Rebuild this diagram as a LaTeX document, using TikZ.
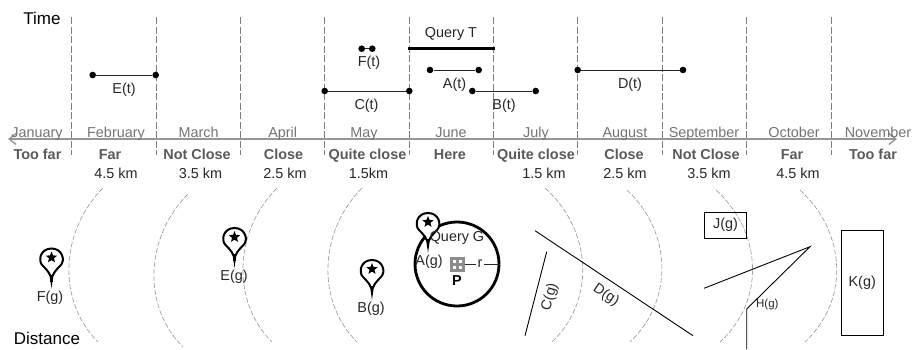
\documentclass[tikz,border=0pt]{standalone}
\usepackage{fontspec}
\setmainfont{Liberation Sans}
\usetikzlibrary{arrows.meta,shapes.geometric}
\definecolor{figgrey}{RGB}{125,125,125}
\definecolor{figlabel}{RGB}{90,90,90}
\definecolor{figaxis}{RGB}{150,150,150}
\providecommand{\flab}{\fontsize{14.4}{16}\selectfont}
\providecommand{\fbig}{\fontsize{17}{19}\selectfont}
\providecommand{\fsmall}{\fontsize{11.5}{13}\selectfont}
\tikzset{
  lab/.style={inner sep=0pt,font=\flab,text=black!85},
  km/.style={lab,anchor=base},
  month/.style={inner sep=0pt,anchor=base,font=\flab,text=figlabel!85},
  near/.style={inner sep=0pt,anchor=base,font=\flab\bfseries,text=figlabel},
  dot/.style={circle,fill=black,inner sep=0pt,minimum size=6.6pt},
  span/.style={draw=black!85,line width=0.9pt},
  slot/.style={draw=figgrey,line width=0.8pt,dash pattern=on 7pt off 2.5pt},
  ring/.style={draw=figaxis,line width=0.6pt,dash pattern=on 5pt off 2pt},
  geom/.style={draw=black,line width=0.9pt},
  pinstar/.style={star,star points=5,star point ratio=2.3,fill=black,inner sep=0pt,minimum size=12pt},
  pin/.pic={
    \draw[black,line width=2pt,fill=white] (0,0) .. controls (0,-7) and (-4,-11) .. (-9,-16) .. controls (-14,-21) and (-11,-33) .. (0,-33) .. controls (11,-33) and (14,-21) .. (9,-16) .. controls (4,-11) and (0,-7) .. (0,0) -- cycle;
    \draw[black,line width=2.8pt] (0,0) -- (0,-7);
    \node[pinstar] (-star) at (0,-24) {};
  }
}
\begin{document}
\begin{tikzpicture}[x=1pt,y=-1pt,line width=0.4pt]
\useasboundingbox (0,0) rectangle (914,349);
% time slots
\draw[slot] (71.5,17) -- (71.5,155);
\draw[slot] (156,17) -- (156,155);
\draw[slot] (240.5,17) -- (240.5,155);
\draw[slot] (324.7,17) -- (324.7,155);
\draw[slot] (409,17) -- (409,155);
\draw[slot] (493.3,17) -- (493.3,155);
\draw[slot] (577.7,17) -- (577.7,155);
\draw[slot] (662,17) -- (662,155);
\draw[slot] (746.3,17) -- (746.3,155);
\draw[slot] (831,17) -- (831,155);
% axis
\coordinate (axisl) at (8,139);
\coordinate (axisr) at (897,139);
\draw[figaxis,line width=1.4pt,{Straight Barb[length=7pt,width=11pt]}-{Straight Barb[length=7pt,width=11pt]}] (axisl) -- (axisr);
\node[inner sep=0pt,font=\fbig] (time) at (42,18) {Time};
\node[inner sep=0pt,font=\fbig] (distance) at (47,338) {Distance};
% months
\node[month] (jan) at (37,137) {January};
\node[month] (feb) at (116,137) {February};
\node[month] (mar) at (198.7,137) {March};
\node[month] (apr) at (282.7,137) {April};
\node[month] (may) at (364,137) {May};
\node[month] (jun) at (451,137) {June};
\node[month] (jul) at (536,137) {July};
\node[month] (aug) at (625,137) {August};
\node[month] (sep) at (704,137) {September};
\node[month] (oct) at (794,137) {October};
\node[month] (nov) at (878,137) {November};
% closeness
\node[near] (toofarl) at (37.5,159) {Too far};
\node[near] (farl) at (110,159) {Far};
\node[near] (notclosel) at (197,159) {Not Close};
\node[near] (closel) at (283.5,159) {Close};
\node[near] (quitel) at (367.5,159) {Quite close};
\node[near] (here) at (450,159) {Here};
\node[near] (quiter) at (536,159) {Quite close};
\node[near] (closer) at (624,159) {Close};
\node[near] (notcloser) at (706,159) {Not Close};
\node[near] (farr) at (792,159) {Far};
\node[near] (toofarr) at (873,159) {Too far};
% distances
\node[km] (kmfourl) at (116,178.5) {4.5 km};
\node[km] (kmthreel) at (200.5,178.5) {3.5 km};
\node[km] (kmtwol) at (285,178.5) {2.5 km};
\node[km] (kmonel) at (368.5,178.5) {1.5km};
\node[km] (kmoner) at (544,178.5) {1.5 km};
\node[km] (kmtwor) at (625,178.5) {2.5 km};
\node[km] (kmthreer) at (709,178.5) {3.5 km};
\node[km] (kmfourr) at (798,178.5) {4.5 km};
% intervals
\coordinate (qtl) at (408,48.7);
\coordinate (qtr) at (494.7,48.7);
\draw[black,line width=2.6pt] (qtl) -- (qtr);
\node[lab] (qt) at (451,34) {Query T};
\node[dot] (ea) at (92.7,75) {};
\node[dot] (eb) at (155.7,75) {};
\draw[span] (ea) -- (eb);
\node[lab] (et) at (124,89.5) {E(t)};
\node[dot] (fa) at (361.7,48.7) {};
\node[dot] (fb) at (372.3,48.7) {};
\draw[span] (fa) -- (fb);
\node[lab] (ft) at (369,63) {F(t)};
\node[dot] (ca) at (324.7,91) {};
\node[dot] (cb) at (409.3,91) {};
\draw[span] (ca) -- (cb);
\node[lab] (ct) at (366.5,106) {C(t)};
\node[dot] (aa) at (430,70) {};
\node[dot] (ab) at (478.7,70) {};
\draw[span] (aa) -- (ab);
\node[lab] (at) at (454.5,85) {A(t)};
\node[dot] (ba) at (472.3,91) {};
\node[dot] (bb) at (535.7,91) {};
\draw[span] (ba) -- (bb);
\node[lab] (bt) at (504,106) {B(t)};
\node[dot] (da) at (577.7,70) {};
\node[dot] (db) at (683,70) {};
\draw[span] (da) -- (db);
\node[lab] (dt) at (630,85) {D(t)};
% distance rings
\draw[ring] (103,188) .. controls (61,230) and (56,300) .. (98,342);
\draw[ring] (188,194) .. controls (146,236) and (141,305) .. (183,347);
\draw[ring] (277,188) .. controls (235,230) and (230,300) .. (272,342);
\draw[ring] (362,188) .. controls (320,230) and (315,300) .. (357,342);
\draw[ring] (545,188) .. controls (592,230) and (596,300) .. (552,342);
\draw[ring] (627,190) .. controls (672,232) and (674,300) .. (630,342);
\draw[ring] (716,190) .. controls (762,232) and (766,300) .. (720,342);
\draw[ring] (800,190) .. controls (846,232) and (850,300) .. (805,342);
% query region
\node[circle,draw=black,line width=2.8pt,minimum size=84pt,inner sep=0pt] (qg) at (457,264) {};
\node[inner sep=0pt,fill=black!45,minimum size=15pt] (picon) at (457,264) {};
\fill[white] (452.5,259.5) rectangle (455.5,262.5);
\fill[white] (458.5,259.5) rectangle (461.5,262.5);
\fill[white] (452.5,265.5) rectangle (455.5,268.5);
\fill[white] (458.5,265.5) rectangle (461.5,268.5);
\node[lab,inner xsep=1.5pt] (r) at (480,264) {r};
\draw[black!85,line width=0.8pt] (picon) -- (r);
\draw[black!85,line width=0.8pt] (r) -- (qg.east);
\node[inner sep=0pt,font=\flab\bfseries] (p) at (457,280.5) {P};
\pic (apin) at (428,246) {pin};
\node[lab] (qgl) at (457,237.5) {Query G};
\node[lab] (ag) at (429,262) {A(g)};
% geometries
\pic (fpin) at (51.5,281.5) {pin};
\node[lab] (fg) at (50,297.7) {F(g)};
\pic (epin) at (234.5,261) {pin};
\node[lab] (eg) at (234,276.7) {E(g)};
\pic (bpin) at (372,293) {pin};
\node[lab] (bg) at (371,309) {B(g)};
\coordinate (cga) at (546.7,251.7);
\coordinate (cgb) at (525,335.7);
\draw[geom] (cga) -- (cgb);
\node[lab,rotate=75] (cg) at (550,297) {C(g)};
\coordinate (dga) at (535,230.7);
\coordinate (dgb) at (693,335.7);
\draw[geom] (dga) -- (dgb);
\node[lab,rotate=-33.6] (dg) at (606,295) {D(g)};
\node[geom,lab,minimum width=42.4pt,minimum height=26.3pt] (jg) at (725.5,225.2) {J(g)};
\node[geom,lab,minimum width=42.4pt,minimum height=105pt] (kg) at (862.2,283.2) {K(g)};
\coordinate (ha) at (704,288.3);
\coordinate (hb) at (810,246.7);
\coordinate (hc) at (746.7,309);
\coordinate (hd) at (746.7,349);
\draw[geom] (ha) -- (hb) -- (hc) -- (hd);
\node[inner sep=0pt,font=\fsmall,text=black!85] (hg) at (767.3,304.7) {H(g)};
\end{tikzpicture}
\end{document}
